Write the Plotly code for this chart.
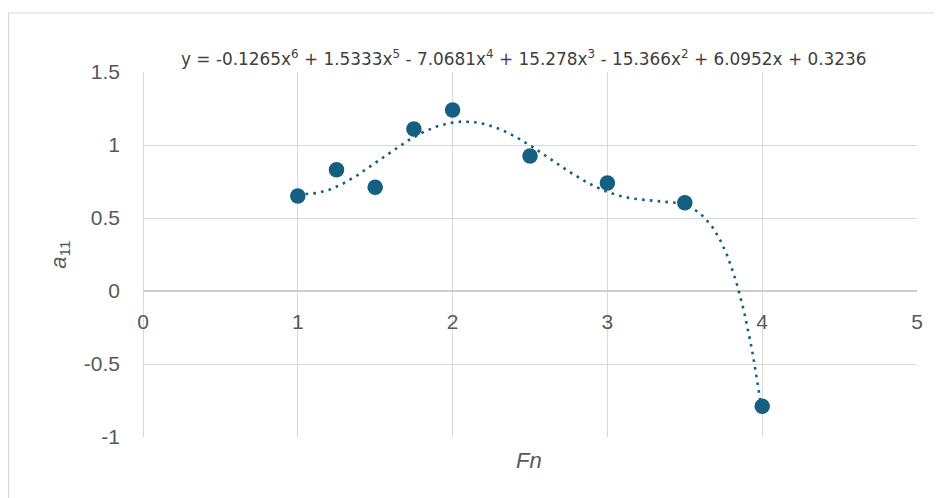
import numpy as np
import plotly.graph_objects as go

# Data
fn_values = [1, 1.25, 1.5, 1.75, 2, 2.5, 3, 3.5, 4]
a11_values = [0.65, 0.83, 0.71, 1.11, 1.24, 0.925, 0.74, 0.605, -0.79]
# Polynomial trendline coefficients (highest power first), as shown on chart
trend_coeffs = [-0.1265, 1.5333, -7.0681, 15.278, -15.366, 6.0952, 0.3236]
x_ticks = [0, 1, 2, 3, 4, 5]
y_ticks = [-1, -0.5, 0, 0.5, 1, 1.5]
y_tick_labels = ["-1", "-0.5", "0", "0.5", "1", "1.5"]

COLOR = "#156082"
GRID = "#d9d9d9"
FONT = "Liberation Sans, Arial, sans-serif"
EQ_FONT = "DejaVu Sans, Verdana, sans-serif"

W, H = 934, 490
L, R, T, B = 135, 25, 64, 61
PW, PH = W - L - R, H - T - B

tx = np.linspace(min(fn_values), max(fn_values), 400)
ty = np.polyval(trend_coeffs, tx)

fig = go.Figure()
fig.add_trace(go.Scatter(
    x=tx, y=ty, mode="lines",
    line=dict(color=COLOR, width=2.6, dash="2.6px,5.2px"),
    hoverinfo="skip", showlegend=False,
))
fig.add_trace(go.Scatter(
    x=fn_values, y=a11_values, mode="markers",
    marker=dict(color=COLOR, size=15.5, line=dict(width=0)),
    showlegend=False,
))

def fmt(c):
    return f"{abs(c):g}"
parts = []
deg = len(trend_coeffs) - 1
for i, c in enumerate(trend_coeffs):
    p = deg - i
    term = fmt(c)
    if p >= 2:
        term += f"x<sup>{p}</sup>"
    elif p == 1:
        term += "x"
    if i == 0:
        parts.append(("-" if c < 0 else "") + term)
    else:
        parts.append((" - " if c < 0 else " + ") + term)
eq = "y = " + "".join(parts)

fig.add_annotation(
    x=(516 - L) / PW, y=(H - B - 50) / PH, xref="paper", yref="paper", text=eq, showarrow=False,
    font=dict(family=EQ_FONT, size=16.9, color="#404040"), xanchor="center", yanchor="middle",
)
fig.add_annotation(
    x=(521 - L) / PW, y=(H - B - 452) / PH, xref="paper", yref="paper", text="<i>Fn</i>", showarrow=False,
    font=dict(family=FONT, size=22, color="#595959"), xanchor="center", yanchor="middle",
)

# outer chart border
fig.add_shape(type="rect", xref="paper", yref="paper",
              x0=(0.6 - L) / PW, x1=1.2, y0=-0.3, y1=(H - B - 5) / PH,
              line=dict(color=GRID, width=1.2), fillcolor="rgba(0,0,0,0)", layer="below")

fig.update_layout(
    width=W, height=H,
    margin=dict(l=L, r=R, t=T, b=B, autoexpand=False),
    paper_bgcolor="white", plot_bgcolor="white",
    font=dict(family=FONT, color="#595959"),
    xaxis=dict(
        range=[0, 5], tickvals=x_ticks, ticktext=[str(v) for v in x_ticks],
        showgrid=True, gridcolor=GRID, gridwidth=1.3,
        zeroline=True, zerolinecolor=GRID, zerolinewidth=1.3,
        anchor="free", position=0.4,
        showline=False, ticks="", ticklabelstandoff=16,
        tickfont=dict(size=21, color="#595959"),
    ),
    yaxis=dict(
        range=[-1, 1.5], tickvals=y_ticks, ticktext=y_tick_labels,
        showgrid=True, gridcolor=GRID, gridwidth=1.3,
        zeroline=True, zerolinecolor="#cccccc", zerolinewidth=1.5,
        ticks="", ticklabelstandoff=22,
        tickfont=dict(size=21, color="#595959"),
        title=dict(text="<i>a</i><sub>11</sub>", font=dict(size=22, color="#595959"), standoff=11),
    ),
)

fig.write_html("out.html")
